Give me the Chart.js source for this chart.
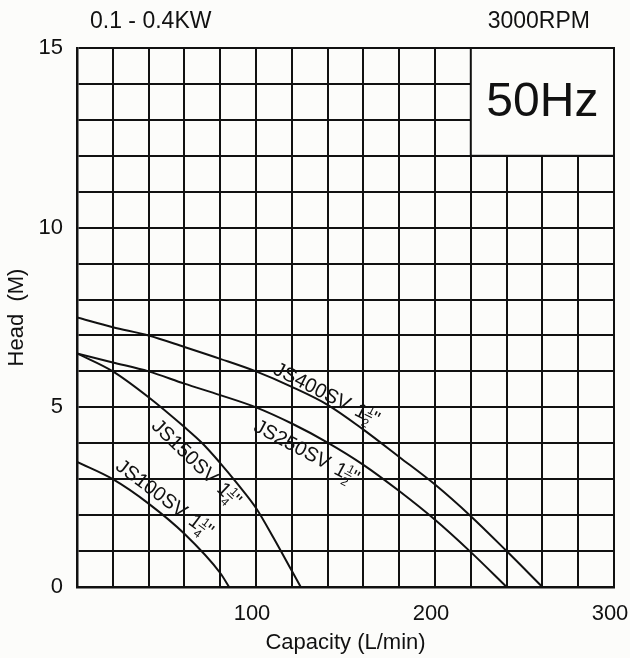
<!DOCTYPE html>
<html>
<head>
<meta charset="utf-8">
<script src="https://cdn.jsdelivr.net/npm/chart.js@4/dist/chart.umd.min.js"></script>
<style>
  html, body { margin: 0; padding: 0; background: #fcfcfa; }
  #wrap { width: 630px; height: 658px; }
</style>
</head>
<body>
<div id="wrap"><canvas id="pumpChart"></canvas></div>
<script>
// curve data (capacity L/min, head m)
const js100Q = [0, 20, 40, 60, 80, 85];
const js100H = [3.48, 3.0, 2.32, 1.48, 0.39, 0];
const js150Q = [0, 20, 40, 60, 70, 80, 90, 100, 110, 120, 125];
const js150H = [6.5, 6.0, 5.28, 4.45, 4.0, 3.45, 2.85, 2.2, 1.35, 0.45, 0];
const js250Q = [0, 20, 40, 60, 80, 100, 120, 140, 160, 180, 200, 220, 240];
const js250H = [6.5, 6.25, 6.0, 5.66, 5.34, 5.0, 4.55, 4.02, 3.4, 2.67, 1.87, 0.97, 0];
const js400Q = [0, 20, 40, 60, 80, 100, 120, 140, 160, 180, 200, 220, 240, 260];
const js400H = [7.5, 7.23, 7.0, 6.68, 6.35, 6.0, 5.57, 5.07, 4.38, 3.62, 2.85, 1.97, 1.0, 0];

const xTickLabels = [100, 200, 300];
const yTickLabels = [0, 5, 10, 15];

// curve labels: name, fraction denominator, anchor (data units), angle
const curveNames = ["JS100SV", "JS150SV", "JS250SV", "JS400SV"];
const curveFrac = ["4", "4", "2", "2"];
const labelQ = [21, 41, 98, 109];
const labelH = [3.3, 4.45, 4.36, 5.95];
const labelAngle = [37, 44, 28, 27];

const FONT = "'Liberation Sans', Arial, sans-serif";
const BG = "#fcfcfa";

function pts(qs, hs) {
  return qs.map((q, i) => ({ x: q, y: hs[i] }));
}

function lineSet(qs, hs) {
  return {
    data: pts(qs, hs),
    borderColor: "#111",
    borderWidth: 2,
    pointRadius: 0,
    fill: false,
    cubicInterpolationMode: "monotone",
  };
}

// white 50Hz box in the top right corner, header texts, curve labels
const boxPlugin = {
  id: "box",
  beforeDatasetsDraw(chart) {
    const { ctx, scales: { x, y } } = chart;
    const x1 = x.getPixelForValue(220), x2 = x.getPixelForValue(300);
    const y1 = y.getPixelForValue(15), y2 = y.getPixelForValue(12);
    ctx.save();
    ctx.fillStyle = BG;
    ctx.fillRect(x1, y1, x2 - x1, y2 - y1);
    ctx.strokeStyle = "#111";
    ctx.lineWidth = 2;
    ctx.strokeRect(x1, y1, x2 - x1, y2 - y1);
    ctx.fillStyle = "#111";
    ctx.font = "48px " + FONT;
    ctx.textAlign = "center";
    ctx.textBaseline = "middle";
    ctx.fillText("50Hz", (x1 + x2) / 2, (y1 + y2) / 2 + 1);

    ctx.font = "23px " + FONT;
    ctx.textAlign = "left";
    ctx.fillText("0.1 - 0.4KW", 90, 22);
    ctx.textAlign = "center";
    ctx.fillText("3000RPM", x.getPixelForValue(258), 22);
    ctx.restore();
  },
  afterDatasetsDraw(chart) {
    const { ctx, scales: { x, y } } = chart;
    ctx.save();
    ctx.fillStyle = "#111";
    ctx.strokeStyle = "#111";
    ctx.textBaseline = "alphabetic";
    ctx.textAlign = "left";
    curveNames.forEach((name, i) => {
      const px = x.getPixelForValue(labelQ[i]);
      const py = y.getPixelForValue(labelH[i]);
      ctx.save();
      ctx.translate(px, py);
      ctx.rotate(labelAngle[i] * Math.PI / 180);
      ctx.font = "20px " + FONT;
      ctx.fillText(name, 0, 0);
      let cx = ctx.measureText(name + " ").width + 2;
      ctx.fillText("1", cx, 0);
      cx += ctx.measureText("1").width - 1;
      ctx.font = "12px " + FONT;
      ctx.fillText("1", cx + 1, -8);
      ctx.fillText(curveFrac[i], cx + 1, 6);
      ctx.lineWidth = 1;
      ctx.beginPath();
      ctx.moveTo(cx, -5.5);
      ctx.lineTo(cx + 8, -5.5);
      ctx.stroke();
      ctx.font = "20px " + FONT;
      ctx.fillText('"', cx + 8, 0);
      ctx.restore();
    });
    ctx.restore();
  },
};

const ctx = document.getElementById("pumpChart").getContext("2d");
new Chart(ctx, {
  type: "line",
  data: {
    datasets: [
      lineSet(js100Q, js100H),
      lineSet(js150Q, js150H),
      lineSet(js250Q, js250H),
      lineSet(js400Q, js400H),
    ],
  },
  options: {
    responsive: true,
    maintainAspectRatio: false,
    devicePixelRatio: 1,
    animation: false,
    layout: { padding: { top: 48, right: 16, left: 0, bottom: 0 } },
    plugins: { legend: { display: false }, tooltip: { enabled: false } },
    scales: {
      x: {
        type: "linear",
        min: 0,
        max: 300,
        afterFit: (s) => { s.height = 71; s.paddingLeft = 0; s.paddingRight = 0; },
        grid: { color: "#111", lineWidth: 2, drawTicks: false },
        border: { color: "#111", width: 2.5 },
        ticks: {
          stepSize: 20,
          autoSkip: false,
          maxRotation: 0,
          padding: 14,
          labelOffset: -4,
          color: "#111",
          font: { family: FONT, size: 22 },
          callback: (v) => (xTickLabels.includes(v) ? v : ""),
        },
        title: {
          display: true,
          text: "Capacity (L/min)",
          color: "#111",
          font: { family: FONT, size: 22 },
          padding: { top: 0, bottom: 2 },
        },
      },
      y: {
        min: 0,
        max: 15,
        afterFit: (s) => { s.width = 77; s.paddingTop = 0; s.paddingBottom = 0; },
        grid: { color: "#111", lineWidth: 2, drawTicks: false },
        border: { color: "#111", width: 2.5 },
        ticks: {
          stepSize: 1,
          autoSkip: false,
          padding: 14,
          color: "#111",
          font: { family: FONT, size: 22 },
          callback: (v) => (yTickLabels.includes(v) ? v : ""),
        },
        title: {
          display: true,
          text: "Head  (M)",
          color: "#111",
          font: { family: FONT, size: 22 },
          padding: { top: 4, bottom: 0 },
        },
      },
    },
  },
  plugins: [boxPlugin],
});
</script>
</body>
</html>
